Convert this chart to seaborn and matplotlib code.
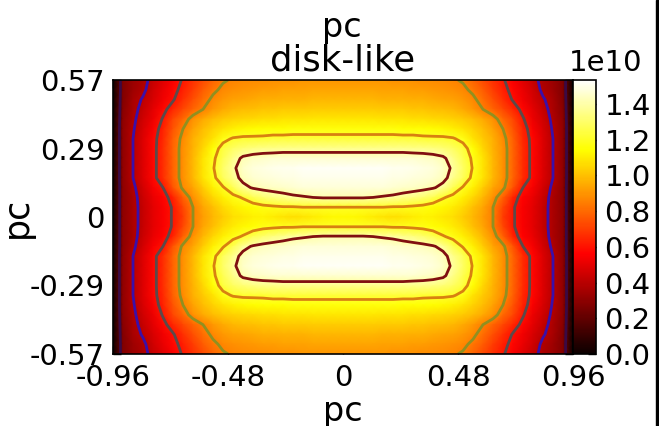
import numpy as np
import matplotlib
matplotlib.use('Agg')
import matplotlib.pyplot as plt
import seaborn as sns
from matplotlib.patches import Rectangle

# upper left quarter of the map, in units of 1e10
quarter = [
    [0.00,0.27,0.33,0.37,0.43,0.49,0.55,0.61,0.67,0.73,0.79,0.84,0.86,0.87,0.88,0.88,0.89,0.89,0.89,0.90,0.90,0.90,0.90,0.90],
    [0.00,0.27,0.34,0.38,0.45,0.51,0.57,0.63,0.70,0.77,0.83,0.87,0.89,0.90,0.91,0.92,0.92,0.93,0.93,0.93,0.94,0.94,0.94,0.94],
    [0.00,0.28,0.36,0.41,0.47,0.53,0.59,0.67,0.74,0.81,0.87,0.91,0.93,0.94,0.95,0.96,0.96,0.97,0.97,0.97,0.98,0.98,0.98,0.98],
    [0.00,0.29,0.37,0.43,0.50,0.57,0.65,0.72,0.79,0.85,0.91,0.95,0.98,0.99,1.00,1.01,1.01,1.02,1.02,1.02,1.03,1.03,1.03,1.03],
    [0.00,0.30,0.38,0.45,0.52,0.61,0.72,0.80,0.89,0.95,0.99,1.02,1.04,1.05,1.06,1.07,1.07,1.08,1.08,1.08,1.09,1.09,1.09,1.09],
    [0.00,0.31,0.39,0.47,0.55,0.64,0.75,0.85,0.93,0.99,1.04,1.08,1.11,1.13,1.14,1.15,1.15,1.15,1.16,1.16,1.16,1.16,1.16,1.16],
    [0.00,0.31,0.40,0.48,0.57,0.65,0.78,0.88,0.96,1.02,1.08,1.17,1.21,1.22,1.22,1.22,1.23,1.23,1.23,1.23,1.23,1.23,1.23,1.23],
    [0.00,0.31,0.40,0.48,0.57,0.66,0.79,0.89,0.97,1.05,1.15,1.24,1.29,1.32,1.34,1.35,1.35,1.36,1.36,1.36,1.36,1.36,1.36,1.36],
    [0.00,0.31,0.40,0.48,0.57,0.66,0.79,0.89,0.98,1.08,1.18,1.27,1.35,1.42,1.44,1.45,1.46,1.46,1.46,1.46,1.46,1.46,1.46,1.46],
    [0.00,0.31,0.40,0.48,0.57,0.66,0.79,0.89,0.98,1.08,1.19,1.30,1.38,1.45,1.48,1.49,1.50,1.51,1.51,1.52,1.52,1.52,1.52,1.52],
    [0.00,0.31,0.40,0.48,0.57,0.66,0.79,0.89,0.98,1.08,1.17,1.28,1.36,1.43,1.46,1.47,1.48,1.49,1.49,1.50,1.50,1.50,1.50,1.50],
    [0.00,0.30,0.38,0.46,0.54,0.60,0.75,0.87,0.94,1.03,1.11,1.19,1.27,1.37,1.41,1.43,1.44,1.45,1.46,1.47,1.47,1.47,1.47,1.47],
    [0.00,0.30,0.37,0.44,0.51,0.56,0.64,0.78,0.89,0.98,1.05,1.11,1.17,1.21,1.27,1.31,1.34,1.36,1.38,1.39,1.40,1.41,1.41,1.41],
    [0.00,0.30,0.37,0.43,0.50,0.55,0.61,0.72,0.85,0.94,1.00,1.06,1.10,1.13,1.15,1.17,1.18,1.19,1.19,1.20,1.20,1.20,1.20,1.20],
    [0.00,0.30,0.37,0.43,0.50,0.55,0.61,0.70,0.85,0.92,0.98,1.03,1.07,1.09,1.11,1.12,1.10,1.08,1.07,1.08,1.10,1.12,1.13,1.13],
]
levels = [0.2, 0.4, 0.6, 0.85, 1.2, 1.4]
level_colors = ['#3a0a45', '#3b0fa8', '#5a4a4a', '#909020', '#d88010', '#801010']
x_tick_labels = ['-0.96', '-0.48', '0', '0.48', '0.96']
y_tick_labels = ['0.57', '0.29', '0', '-0.29', '-0.57']
cbar_ticks = [0.0, 0.2, 0.4, 0.6, 0.8, 1.0, 1.2, 1.4]
cbar_labels = ['0.0', '0.2', '0.4', '0.6', '0.8', '1.0', '1.2', '1.4']

W, H = 659, 426
sns.set_style('white')
plt.rcParams['font.family'] = ['DejaVu Sans']
plt.rcParams['text.color'] = 'black'
plt.rcParams['axes.labelcolor'] = 'black'
plt.rcParams['xtick.labelcolor'] = 'black'
plt.rcParams['ytick.labelcolor'] = 'black'

top = np.array(quarter)
top = np.hstack([top, top[:, -2::-1]])
grid = np.vstack([top, top[-2::-1]])
ny, nx = grid.shape

fig = plt.figure(figsize=(W / 100, H / 100), dpi=100)
ax = fig.add_axes([113 / W, 1 - 354 / H, 460 / W, 274 / H])
cax = fig.add_axes([573 / W, 1 - 354 / H, 23 / W, 274 / H])

sns.heatmap(grid, cmap='hot', vmin=0, vmax=1.535, ax=ax, cbar_ax=cax,
            xticklabels=False, yticklabels=False, shading='gouraud')
ax.contour(grid, levels=levels, colors=level_colors, linewidths=2)
ax.set_xlim(0, nx - 1)
ax.set_ylim(ny - 1, 0)

ax.set_xticks(np.linspace(0, nx - 1, 5))
ax.set_xticklabels(x_tick_labels, fontsize=21)
ax.set_yticks(np.linspace(0, ny - 1, 5))
ax.set_yticklabels(y_tick_labels, fontsize=21)
ax.tick_params(direction='in', length=6, width=1, color='black', top=True, right=True,
               left=True, bottom=True)
ax.tick_params(axis='x', pad=7)
ax.tick_params(axis='y', pad=6)
for s in ax.spines.values():
    s.set_visible(True)
    s.set_color('black')
    s.set_linewidth(1.2)
ax.set_xlabel('pc', fontsize=24)
ax.xaxis.set_label_coords(0.5, (354 - 395) / 274)
ax.set_ylabel('pc', fontsize=25)
ax.yaxis.set_label_coords((34 - 113) / 460, 0.5)
ax.set_title('disk-like', fontsize=25.5, pad=7)
fig.text(342 / W, 1 - 28 / H, 'pc', fontsize=24, ha='center', va='center')

cb = ax.collections[0].colorbar
cb.set_ticks(cbar_ticks)
cb.set_ticklabels(cbar_labels, fontsize=21)
cax.tick_params(direction='in', length=6, width=1, color='black', right=True, pad=6)
cb.outline.set_visible(True)
cb.outline.set_edgecolor('black')
cb.outline.set_linewidth(1.2)
fig.text(606 / W, 1 - 63 / H, '1e10', fontsize=21, ha='center', va='center')

# black strip along the right edge of the screenshot
fig.add_artist(Rectangle((656 / W, 0), 3 / W, 1, transform=fig.transFigure, color='black'))

fig.savefig('out.png', dpi=100)
